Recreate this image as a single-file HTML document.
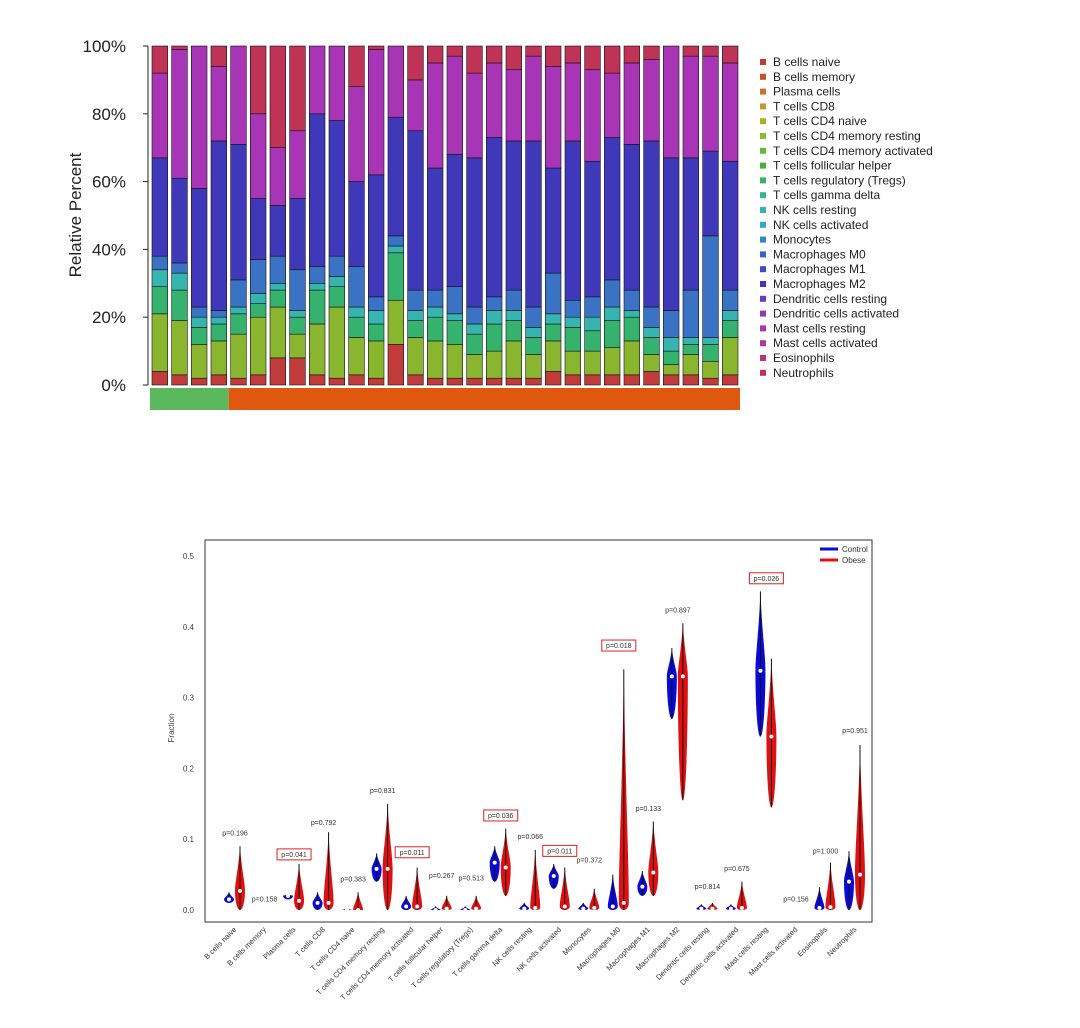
<!DOCTYPE html>
<html><head><meta charset="utf-8"><style>
body{margin:0;background:#fff;width:1080px;height:1028px;overflow:hidden;font-family:"Liberation Sans",sans-serif}
svg{position:absolute;left:0;top:0}
</style></head><body>
<svg id="s" width="1080" height="1028" xmlns="http://www.w3.org/2000/svg"></svg>
<script>
// ---------- top chart data (percent per sample) ----------
const neut=[8,1,0,6,0,20,30,25,0,0,12,1,0,10,5,3,8,5,7,3,6,5,7,8,5,4,0,3,3,5];
const mast=[25,38,42,22,29,25,17,20,20,22,28,37,21,15,31,29,25,22,21,25,30,23,27,19,24,24,33,30,28,29];
const m2=[29,25,35,50,40,18,15,21,45,40,25,36,35,47,36,39,44,47,44,49,31,47,40,42,43,49,45,39,25,38];
const mono=[4,3,3,2,8,10,8,12,5,6,12,4,3,6,5,8,5,4,6,6,12,5,6,8,6,6,8,14,30,6];
const teal=[5,5,3,2,2,3,2,2,2,3,3,4,2,3,3,2,3,4,3,3,3,3,4,4,2,3,4,2,2,3];
const green=[8,9,5,5,6,4,5,5,10,6,6,5,14,5,7,7,6,8,6,5,5,7,6,8,7,5,4,3,5,5];
const low=[4,3,2,3,2,3,8,8,3,2,3,2,12,3,2,2,2,2,2,2,4,3,3,3,3,4,3,3,2,3];
const groupCtrl=4;
const legendNames=["B cells naive","B cells memory","Plasma cells","T cells CD8","T cells CD4 naive","T cells CD4 memory resting","T cells CD4 memory activated","T cells follicular helper","T cells regulatory (Tregs)","T cells gamma delta","NK cells resting","NK cells activated","Monocytes","Macrophages M0","Macrophages M1","Macrophages M2","Dendritic cells resting","Dendritic cells activated","Mast cells resting","Mast cells activated","Eosinophils","Neutrophils"];
const legendColors=["#c23b3b","#c8502d","#c8762d","#c09a2e","#a8b02e","#8db832","#6cb834","#45b53a","#38b46a","#35b58f","#36b5b0","#35a8c5","#3487c6","#3a64c2","#3d4cbc","#3f38b8","#6a3ac0","#8b3ac0","#a835b5","#b53498","#bb3278","#bf3357"];
const yTicks=[0,20,40,60,80,100];
// ---------- bottom chart data ----------
const cells=legendNames;
const cLo=[0.01,0,0.015,0,0,0.04,0,0,0,0.04,0,0.03,0,0,0.02,0.27,0,0,0.245,0,0,0];
const cHi=[0.025,0,0.022,0.025,0.002,0.08,0.02,0.005,0.005,0.09,0.01,0.065,0.01,0.05,0.055,0.37,0.008,0.008,0.45,0,0.032,0.083];
const cMed=[0.015,0,0.02,0.01,0,0.058,0.005,0,0,0.067,0.002,0.048,0.002,0.005,0.033,0.33,0.002,0.002,0.338,0,0.003,0.04];
const oLo=[0,0,0,0,0,0,0,0,0,0.02,0,0,0,0,0.02,0.155,0,0,0.145,0,0,0];
const oHi=[0.09,0,0.065,0.11,0.025,0.15,0.06,0.02,0.02,0.115,0.085,0.06,0.03,0.34,0.125,0.405,0.01,0.04,0.355,0,0.067,0.233];
const oMed=[0.027,0,0.013,0.01,0,0.058,0.005,0.002,0.002,0.06,0.003,0.005,0.003,0.01,0.053,0.33,0.002,0.003,0.245,0,0.004,0.05];
const pvals=["p=0.196","p=0.158","p=0.041","p=0.792","p=0.383","p=0.831","p=0.011","p=0.267","p=0.513","p=0.036","p=0.066","p=0.011","p=0.372","p=0.018","p=0.133","p=0.897","p=0.814","p=0.675","p=0.026","p=0.156","p=1.000","p=0.951"];
const pY=[0.105,0.012,0.075,0.12,0.04,0.165,0.078,0.045,0.042,0.13,0.1,0.08,0.067,0.37,0.14,0.42,0.03,0.055,0.465,0.012,0.08,0.25];
const fTicks=[0,0.1,0.2,0.3,0.4,0.5];

const S=document.getElementById('s');const NS="http://www.w3.org/2000/svg";
function mk(t,a,txt){const e=document.createElementNS(NS,t);for(const k in a)e.setAttribute(k,a[k]);if(txt!=null)e.textContent=txt;S.appendChild(e);return e;}

// ===== top chart =====
const tX0=150,tX1=740,tY0=385,tY1=46;
const ty=v=>tY0-(v/100)*(tY0-tY1);
const n=neut.length,step=(tX1-tX0)/n,bw=step-4;
const segCols=["#c23b3b","#8ab52f","#35b26e","#36b5b0","#3a72c4","#3f38b8","#a835b5","#bf3357"];
for(let i=0;i<n;i++){
  const olive=100-neut[i]-mast[i]-m2[i]-mono[i]-teal[i]-green[i]-low[i];
  const segs=[low[i],olive,green[i],teal[i],mono[i],m2[i],mast[i],neut[i]];
  let acc=0;const x=tX0+i*step+2;
  segs.forEach((v,k)=>{
    const r=mk('rect',{x:x,y:ty(acc+v),width:bw,height:Math.max(0,ty(acc)-ty(acc+v)),fill:segCols[k],stroke:'#111','stroke-width':0.6});
    
    
    acc+=v;
  });
}
let e=mk('line',{x1:148,y1:tY1,x2:148,y2:tY0,stroke:'#222','stroke-width':1});
yTicks.forEach(t=>{
  e=mk('text',{x:126,y:ty(t)+6,'text-anchor':'end','font-size':17,fill:'#222'},t+'%');
  
  mk('line',{x1:143,y1:ty(t),x2:148,y2:ty(t),stroke:'#222'});
});
e=mk('text',{x:81,y:215,'text-anchor':'middle','font-size':17,fill:'#222',transform:'rotate(-90 81 215)'},'Relative Percent');

// group bar
e=mk('rect',{x:tX0,y:388,width:groupCtrl*step,height:22,fill:'#5cb85c'});
e=mk('rect',{x:tX0+groupCtrl*step,y:388,width:(n-groupCtrl)*step,height:22,fill:'#e0570f'});
// legend
legendNames.forEach((nm,i)=>{
  const y=62+i*14.8;
  e=mk('rect',{x:760,y:y-3,width:6,height:6,fill:legendColors[i]});
  e=mk('text',{x:773,y:y+4,'font-size':12,fill:'#222'},nm);
});

// ===== bottom chart =====
const bX0=205,bX1=872,bYt=540,bYb=922;
const fy=v=>910-v*708;
e=mk('rect',{x:bX0,y:bYt,width:bX1-bX0,height:bYb-bYt,fill:'none',stroke:'#333','stroke-width':1});
fTicks.forEach(t=>{
  e=mk('text',{x:194,y:fy(t)+3,'text-anchor':'end','font-size':8,fill:'#444'},t.toFixed(1));
  
});
e=mk('text',{x:174,y:728,'text-anchor':'middle','font-size':8,fill:'#444',transform:'rotate(-90 174 728)'},'Fraction');

const gx=i=>235+i*(620/21);
function violin(cx,lo,hi,med,col,w){
  if(hi<=lo)return;
  const y0=fy(lo),y1=fy(hi),ym=fy(med);
  const d=`M${cx},${y1} C${cx+w*0.3},${y1+(ym-y1)*0.5} ${cx+w},${ym-(ym-y1)*0.2} ${cx+w},${ym} C${cx+w},${ym+(y0-ym)*0.5} ${cx+w*0.6},${y0} ${cx},${y0} C${cx-w*0.6},${y0} ${cx-w},${ym+(y0-ym)*0.5} ${cx-w},${ym} C${cx-w},${ym-(ym-y1)*0.2} ${cx-w*0.3},${y1+(ym-y1)*0.5} ${cx},${y1}Z`;
  const p=mk('path',{d:d,fill:col});
  
  
  mk('line',{x1:cx,y1:y1,x2:cx,y2:y0,stroke:'#111','stroke-width':1});
  mk('circle',{cx:cx,cy:ym,r:2,fill:'#fff'});
}
cells.forEach((nm,i)=>{
  const cx=gx(i);
  violin(cx-6,cLo[i],cHi[i],cMed[i],'#0a0ad8',5);
  violin(cx+5,oLo[i],oHi[i],oMed[i],'#e01010',5);
  const boxed=parseFloat(pvals[i].slice(2))<0.05;
  const py=fy(pY[i]);
  if(boxed){const r=mk('rect',{x:cx-17,y:py-8,width:34,height:11,fill:'none',stroke:'#e02020','stroke-width':1});}
  e=mk('text',{x:cx,y:py,'text-anchor':'middle','font-size':7,fill:'#333'},pvals[i]);
  
  e=mk('text',{x:cx+2,y:930,'text-anchor':'end','font-size':7.5,fill:'#333',transform:`rotate(-45 ${cx+2} 930)`},nm);
  
});
e=mk('line',{x1:820,y1:549,x2:838,y2:549,stroke:'#0a0ad8','stroke-width':3});
e=mk('text',{x:842,y:552,'font-size':8,fill:'#333'},'Control');
e=mk('line',{x1:820,y1:560,x2:838,y2:560,stroke:'#e01010','stroke-width':3});
e=mk('text',{x:842,y:563,'font-size':8,fill:'#333'},'Obese');
</script>
</body></html>
